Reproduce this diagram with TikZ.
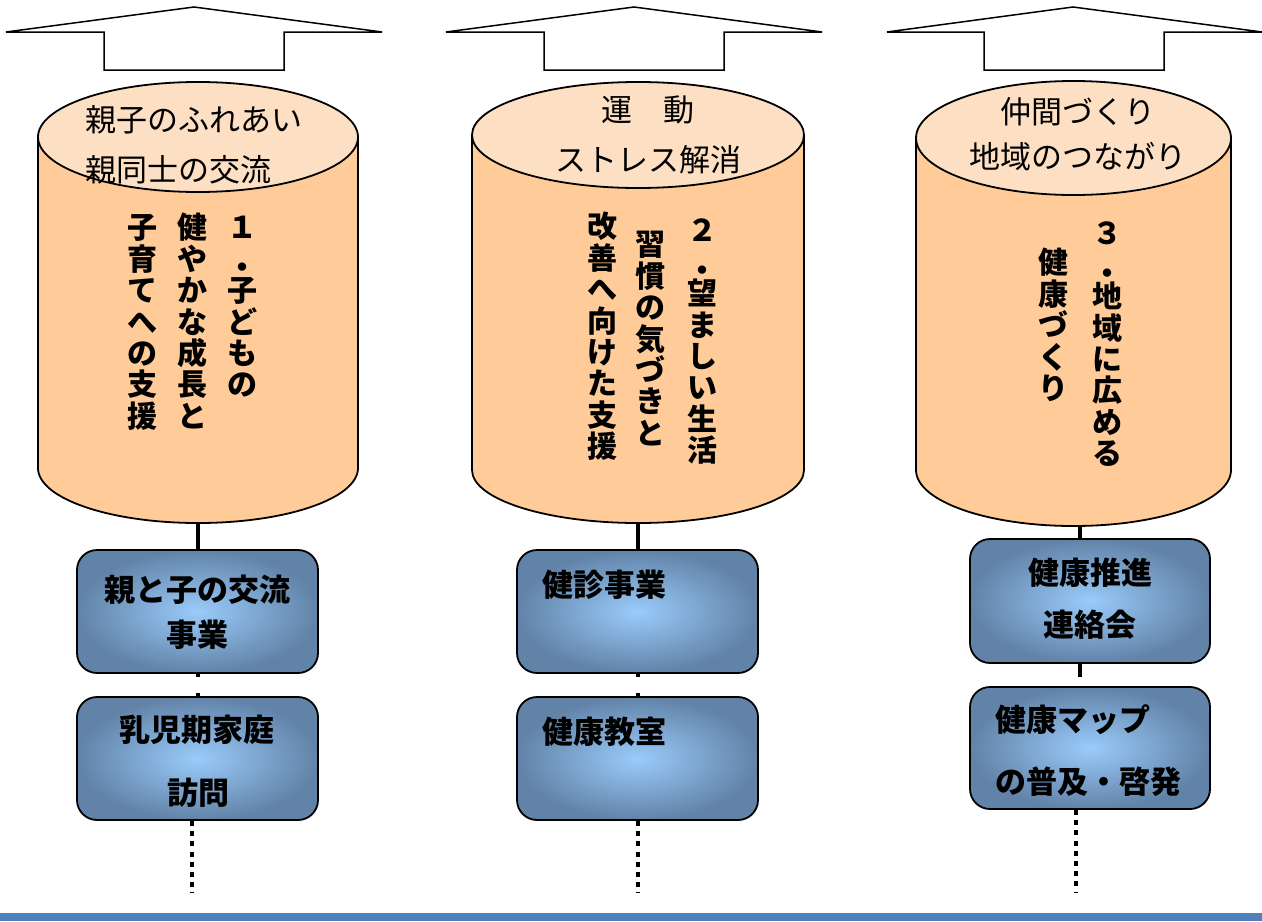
\documentclass[tikz,border=0pt]{standalone}
\usepackage{fontspec}
\setmainfont{Noto Sans CJK JP}
\newfontfamily\jp{Noto Sans CJK JP}
\usetikzlibrary{fit}
\definecolor{cylbodyc}{HTML}{FFCC99}
\definecolor{peach}{HTML}{FDE0C4}
\definecolor{boxout}{HTML}{6283A8}
\definecolor{boxin}{HTML}{9ACBFA}
\definecolor{bandc}{HTML}{4F81BD}
\newcommand\vcol[1]{\vbox{\hsize=2em \centering \baselineskip=15.7pt \lineskiplimit=-100pt \lineskip=0pt \leavevmode\rule{0pt}{13.2pt}#1\par}}
\newcommand\vdot{\raisebox{-4pt}{\smash{・}}}
\begin{document}
\begin{tikzpicture}[x=0.5pt,y=-0.5pt,
  uparrow/.style={draw=black, line width=0.75pt, fill=white, line join=miter},
  cylbody/.style={draw=black, line width=0.9pt, fill=cylbodyc},
  cyltop/.style={draw=black, line width=0.9pt, fill=peach},
  box/.style={draw=black, line width=0.9pt, rounded corners=10pt, inner color=boxin, outer color=boxout, inner sep=0pt},
  ell/.style={font=\jp\fontsize{15.5}{18}\selectfont, inner sep=0pt},
  vt/.style={font=\jp\bfseries\fontsize{15}{15.7}\selectfont, inner sep=0pt, anchor=north},
  bt/.style={font=\jp\bfseries\fontsize{15.5}{18}\selectfont, inner sep=0pt},
  solidc/.style={line width=2pt},
  dotc/.style={line width=2pt, dash pattern=on 2.5pt off 2.6pt},
  midc/.style={line width=2pt, dash pattern=on 1.5pt off 8pt on 3pt off 10pt},
]
\useasboundingbox (0,0) rectangle (1262,921);

% up arrows
\path[uparrow] (104,70) -- (104,32) -- (6,32) -- (194,7) -- (382,32) -- (284,32) -- (284,70) -- cycle;
\path[uparrow] (544,70) -- (544,32) -- (446,32) -- (634,7) -- (822,32) -- (724,32) -- (724,70) -- cycle;
\path[uparrow] (984,70) -- (984,32) -- (887,32) -- (1073,7) -- (1262,32) -- (1164,32) -- (1164,70) -- cycle;

% cylinders
\path[cylbody] (38,137) -- (38,468) .. controls (38,498.4) and (109.6,523) .. (198,523) .. controls (286.4,523) and (358,498.4) .. (358,468) -- (358,137) -- cycle;
\path[cyltop] (198,137) ellipse [x radius=160, y radius=55];
\path[cylbody] (472,135) -- (472,470) .. controls (472,499.3) and (546.3,523) .. (638,523) .. controls (729.7,523) and (804,499.3) .. (804,470) -- (804,135) -- cycle;
\path[cyltop] (638,135) ellipse [x radius=166, y radius=53];
\path[cylbody] (916,138) -- (916,470) .. controls (916,500.9) and (986.5,526) .. (1073.5,526) .. controls (1160.5,526) and (1231,500.9) .. (1231,470) -- (1231,138) -- cycle;
\path[cyltop] (1073.5,138) ellipse [x radius=157.5, y radius=57];

\coordinate (cyl1) at (198,523);
\coordinate (cyl2) at (638,523);
\coordinate (cyl3) at (1080,526);

% ellipse texts
\node[ell, anchor=west] (e11) at (85,120) {親子のふれあい};
\node[ell, anchor=west] (e12) at (85,170) {親同士の交流};
\node[ell] (e21) at (648,110) {運　動};
\node[ell] (e22) at (648,160) {ストレス解消};
\node[ell] (e31) at (1078,112) {仲間づくり};
\node[ell] (e32) at (1078,157) {地域のつながり};

% vertical texts
\node[vt] (v11) at (242,212) {\vcol{１\\\vdot\\子\\ど\\も\\の}};
\node[vt] (v12) at (192,212) {\vcol{健\\や\\か\\な\\成\\長\\と}};
\node[vt] (v13) at (142,212) {\vcol{子\\育\\て\\へ\\の\\支\\援}};
\node[vt] (v21) at (702,215) {\vcol{２\\\vdot\\望\\ま\\し\\い\\生\\活}};
\node[vt] (v22) at (650,229) {\vcol{習\\慣\\の\\気\\づ\\き\\と}};
\node[vt] (v23) at (602,211) {\vcol{改\\善\\へ\\向\\け\\た\\支\\援}};
\node[vt] (v31) at (1107,218) {\vcol{３\\\vdot\\地\\域\\に\\広\\め\\る}};
\node[vt] (v32) at (1053,247) {\vcol{健\\康\\づ\\く\\り}};

% boxes
\node[box, fit={(77,550) (318,673)}] (b11) {};
\node[box, fit={(77,697) (318,820)}] (b12) {};
\node[box, fit={(517,550) (758,673)}] (b21) {};
\node[box, fit={(517,697) (758,820)}] (b22) {};
\node[box, fit={(970,539) (1210,663)}] (b31) {};
\node[box, fit={(970,687) (1210,809)}] (b32) {};

\coordinate (end1) at (192,893);
\coordinate (end2) at (638,893);
\coordinate (end3) at (1076,893);
\coordinate (x3) at (1080,0);

% connectors
\draw[solidc] (cyl1) -- (cyl1 |- b11.north);
\draw[midc] (b11.south) -- (b12.north);
\draw[dotc] (end1 |- b12.south) -- (end1);
\draw[solidc] (cyl2) -- (cyl2 |- b21.north);
\draw[midc] (b21.south) -- (b22.north);
\draw[dotc] (end2 |- b22.south) -- (end2);
\draw[solidc] (cyl3) -- (cyl3 |- b31.north);
\draw[solidc, shorten >=4.5pt] (x3 |- b31.south) -- (x3 |- b32.north);
\draw[dotc] (end3 |- b32.south) -- (end3);

% box texts
\node[bt] (t111) at (197,590) {親と子の交流};
\node[bt] (t112) at (197,635) {事業};
\node[bt] (t121) at (197,730) {乳児期家庭};
\node[bt] (t122) at (198,793) {訪問};
\node[bt, anchor=west] (t211) at (542,585) {健診事業};
\node[bt, anchor=west] (t221) at (542,732) {健康教室};
\node[bt] (t311) at (1090,573) {健康推進};
\node[bt] (t312) at (1090,625) {連絡会};
\node[bt, anchor=west] (t321) at (995,720) {健康マップ};
\node[bt, anchor=west] (t322) at (995,782) {の普及・啓発};

% bottom band
\fill[bandc] (0,913) rectangle (1262,921);
\end{tikzpicture}
\end{document}
